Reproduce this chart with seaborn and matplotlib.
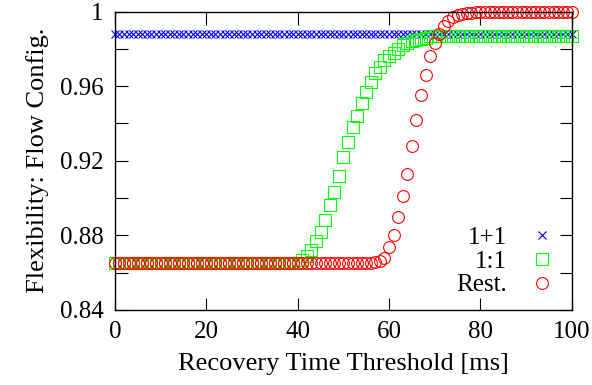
import numpy as np
import pandas as pd
import seaborn as sns
import matplotlib.pyplot as plt

# recovery time threshold, 0..100 ms in 1 ms steps
threshold = list(range(0, 101))

# 1+1 protection: flat
flex_1p1 = [0.988] * 101

# 1:1 protection
flex_1to1 = [0.865] * 41 + [
    0.867, 0.869, 0.872, 0.877, 0.882, 0.888, 0.896, 0.903, 0.912, 0.922,
    0.930, 0.938, 0.944, 0.951, 0.957, 0.962, 0.967, 0.970, 0.974, 0.976,
    0.978, 0.980, 0.982, 0.983, 0.984, 0.985, 0.9855, 0.986,
] + [0.987] * 32

# restoration
flex_rest = [0.865] * 57 + [
    0.8655, 0.866, 0.868, 0.8735, 0.880, 0.890, 0.901, 0.913, 0.928, 0.942,
    0.955, 0.966, 0.976, 0.983, 0.988, 0.992, 0.995, 0.997, 0.998, 0.9985,
    0.999, 0.9993, 0.9995,
] + [0.9997] * 21

series = [
    ('1+1', flex_1p1, 'x', '#0000ff', 6),
    ('1:1', flex_1to1, 's', '#00ff00', 8.5),
    ('Rest.', flex_rest, 'o', '#ff0000', 8.5),
]

sns.set_style('ticks')
plt.rcParams['font.family'] = ['Liberation Serif', 'DejaVu Serif']
plt.rcParams['text.color'] = 'black'
plt.rcParams['axes.labelcolor'] = 'black'

fig = plt.figure(figsize=(5.92, 3.85), dpi=100)
ax = fig.add_axes([0.194, 0.195, 0.772, 0.775])

for name, vals, mk, col, ms in series:
    df = pd.DataFrame({'t': threshold, 'f': vals})
    face = col if mk == 'x' else 'none'
    sns.lineplot(data=df, x='t', y='f', ax=ax, label=name, linestyle='',
                 marker=mk, color=col, ms=ms, mew=0.8,
                 markerfacecolor=face, markeredgecolor=col,
                 errorbar=None, clip_on=False)

ax.set_xlim(0, 100)
ax.set_ylim(0.84, 1.0)
ax.set_xticks([0, 20, 40, 60, 80, 100])
yt = [0.84, 0.86, 0.88, 0.90, 0.92, 0.94, 0.96, 0.98, 1.0]
ylab = ['0.84', '', '0.88', '', '0.92', '', '0.96', '', '1']
ax.set_yticks(yt)
ax.set_yticklabels(ylab)
ax.tick_params(direction='in', top=True, right=True, length=9, width=0.8,
               labelsize=18, pad=8, colors='black')
for sp in ax.spines.values():
    sp.set_linewidth(1.0)
    sp.set_color('black')

ax.set_xlabel('Recovery Time Threshold [ms]', fontsize=19, labelpad=7,
              color='black')
ax.set_ylabel('Flexibility: Flow Config.', fontsize=19, labelpad=8,
              color='black')

leg = ax.legend(loc='lower right', bbox_to_anchor=(0.995, -0.005), frameon=False,
                markerfirst=False, fontsize=18, handlelength=1.0,
                handletextpad=0.9, labelspacing=0.05, borderaxespad=0.2)
for t in leg.get_texts():
    t.set_color('black')
for col in leg._legend_handle_box.get_children():
    col.align = 'right'

fig.savefig('out.png', dpi=100)
